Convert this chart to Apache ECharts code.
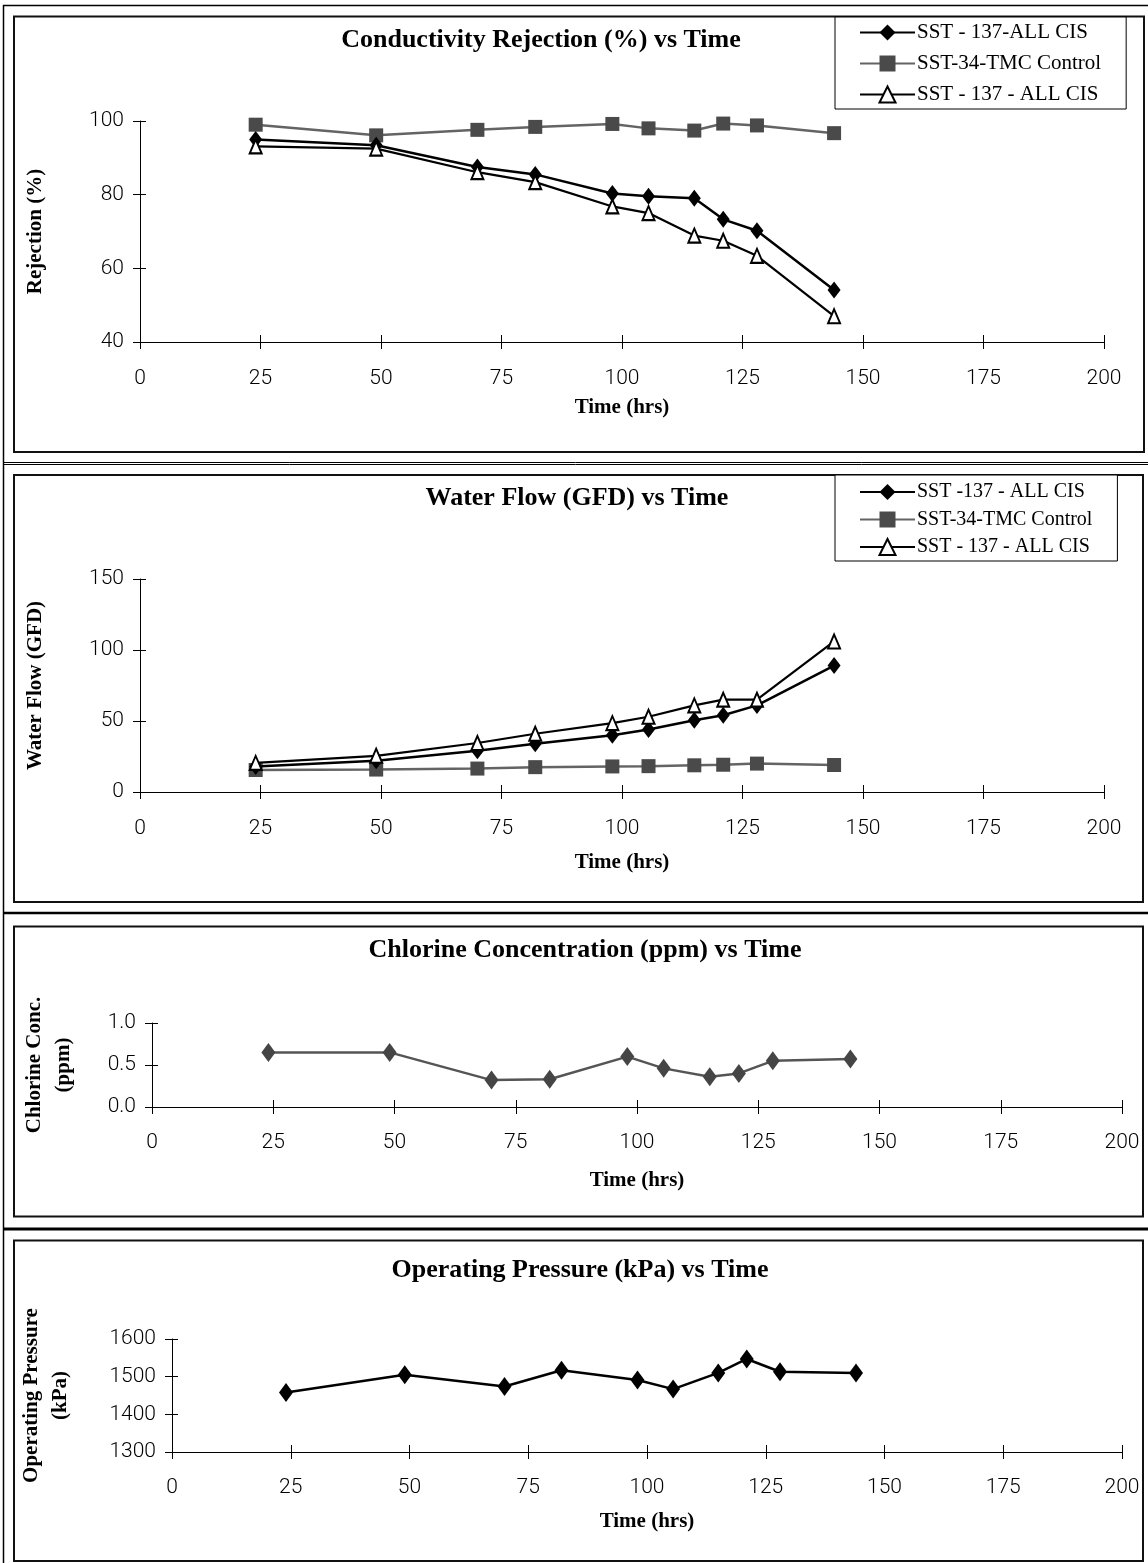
<!DOCTYPE html>
<html>
<head>
<meta charset="utf-8">
<script src="https://cdn.jsdelivr.net/npm/echarts@6/dist/echarts.min.js"></script>
<style>
html,body{margin:0;padding:0;background:#fff;}
#c{width:1148px;height:1563px;}
</style>
</head>
<body>
<div id="c"></div>
<script>
// ---- data ----
const hours = [24, 49, 70, 82, 98, 105.5, 115, 121, 128, 144];
const xTicks = [0, 25, 50, 75, 100, 125, 150, 175, 200];

const rejCis = [95.0, 93.4, 87.5, 85.5, 80.3, 79.6, 79.0, 73.3, 70.2, 54.1];
const rejControl = [99.0, 96.1, 97.6, 98.4, 99.2, 98.0, 97.4, 99.3, 98.8, 96.7];
const rejCis2 = [93.1, 92.5, 86.1, 83.4, 76.8, 75.0, 68.9, 67.5, 63.4, 47.0];

const flowCis = [18, 22, 29, 34, 40, 44, 50.5, 54, 61, 89];
const flowControl = [15.5, 15.8, 16.5, 17.5, 18, 18.2, 18.8, 19.2, 20, 19];
const flowCis2 = [20.5, 25.5, 34.5, 41, 48.5, 53, 61, 65, 65, 106];

const chlorine = [0.65, 0.65, 0.32, 0.33, 0.60, 0.46, 0.36, 0.40, 0.55, 0.57];
const pressure = [1458, 1505, 1474, 1517, 1491, 1467, 1510, 1547, 1513, 1510];

const legend1 = ['SST - 137-ALL CIS', 'SST-34-TMC Control', 'SST - 137 - ALL CIS'];
const legend2 = ['SST -137 - ALL CIS', 'SST-34-TMC Control', 'SST - 137 - ALL CIS'];

const titles = ['Conductivity Rejection (%) vs Time', 'Water Flow (GFD) vs Time',
  'Chlorine Concentration (ppm) vs Time', 'Operating Pressure (kPa) vs Time'];
const yNames = ['Rejection (%)', 'Water Flow (GFD)', 'Chlorine Conc.\n(ppm)', 'Operating Pressure\n(kPa)'];
const xName = 'Time (hrs)';

// ---- helpers ----
const pair = ys => hours.map((h, i) => [h, ys[i]]);
const SERIF = 'Liberation Serif, Times New Roman, serif';
const SANS = 'Roboto, DejaVu Sans, sans-serif';

const grids = [
  {left: 140, top: 121, width: 964, height: 221},
  {left: 140, top: 579, width: 964, height: 213},
  {left: 152, top: 1023, width: 970, height: 84},
  {left: 172, top: 1339, width: 950, height: 113}
];
const yRanges = [
  {min: 40, max: 100, interval: 20},
  {min: 0, max: 150, interval: 50},
  {min: 0, max: 1, interval: 0.5},
  {min: 1300, max: 1600, interval: 100}
];
const xMargins = [26, 26, 25, 25];
const xNameGaps = [55, 60, 63, 59];
const yNameGaps = [90, 90, 74, 97];

const xAxes = [], yAxes = [];
grids.forEach((g, i) => {
  xAxes.push({
    type: 'value', gridIndex: i, min: 0, max: 200, interval: 25, position: 'bottom',
    name: xName, nameLocation: 'middle', nameGap: xNameGaps[i],
    nameTextStyle: {fontFamily: SERIF, fontWeight: 'bold', fontSize: 21, color: '#000'},
    axisLine: {show: true, onZero: false, lineStyle: {color: '#000', width: 1}},
    axisTick: {show: true, length: 7, lineStyle: {color: '#000'}},
    axisLabel: {show: true, margin: xMargins[i], fontFamily: SANS, fontWeight: 300, fontSize: 21, color: '#000'},
    splitLine: {show: false}
  });
  xAxes.push({
    type: 'value', gridIndex: i, min: 0, max: 200, interval: 25, position: 'bottom',
    axisLine: {show: false, onZero: false},
    axisTick: {show: true, inside: true, length: 7, lineStyle: {color: '#000'}},
    axisLabel: {show: false}, splitLine: {show: false}
  });
  const r = yRanges[i];
  yAxes.push({
    type: 'value', gridIndex: i, min: r.min, max: r.max, interval: r.interval, position: 'left',
    name: yNames[i], nameLocation: 'middle', nameGap: yNameGaps[i], nameRotate: 90,
    nameTextStyle: {fontFamily: SERIF, fontWeight: 'bold', fontSize: 21, color: '#000', lineHeight: 29},
    axisLine: {show: true, onZero: false, lineStyle: {color: '#000', width: 1}},
    axisTick: {show: true, length: 7, lineStyle: {color: '#000'}},
    axisLabel: {show: true, margin: 16, fontFamily: SANS, fontWeight: 300, fontSize: 21, color: '#000',
      formatter: i === 2 ? (v => v.toFixed(1)) : (v => String(v))},
    splitLine: {show: false}
  });
  yAxes.push({
    type: 'value', gridIndex: i, min: r.min, max: r.max, interval: r.interval, position: 'left',
    axisLine: {show: false, onZero: false},
    axisTick: {show: true, inside: true, length: 6, lineStyle: {color: '#000'}},
    axisLabel: {show: false}, splitLine: {show: false}
  });
});

function diamondSeries(name, data, axisIdx, color, lineColor, size) {
  return {
    name, type: 'line', xAxisIndex: axisIdx * 2, yAxisIndex: axisIdx * 2, data,
    symbol: 'diamond', symbolSize: size || [13, 17],
    itemStyle: {color: color, borderWidth: 0},
    lineStyle: {color: lineColor, width: 2.5}, z: 3
  };
}
function squareSeries(name, data, axisIdx) {
  return {
    name, type: 'line', xAxisIndex: axisIdx * 2, yAxisIndex: axisIdx * 2, data,
    symbol: 'rect', symbolSize: 14,
    itemStyle: {color: '#4a4a4a', borderWidth: 0},
    lineStyle: {color: '#646464', width: 2.5}, z: 2
  };
}
function triangleSeries(name, data, axisIdx) {
  return {
    name, type: 'line', xAxisIndex: axisIdx * 2, yAxisIndex: axisIdx * 2, data,
    symbol: 'triangle', symbolSize: [12, 14],
    itemStyle: {color: '#fff', borderColor: '#000', borderWidth: 2},
    lineStyle: {color: '#000', width: 2.2}, z: 4
  };
}

const series = [
  diamondSeries(legend1[0], pair(rejCis), 0, '#000', '#000'),
  squareSeries(legend1[1], pair(rejControl), 0),
  triangleSeries(legend1[2], pair(rejCis2), 0),
  diamondSeries(legend2[0], pair(flowCis), 1, '#000', '#000'),
  squareSeries(legend2[1], pair(flowControl), 1),
  triangleSeries(legend2[2], pair(flowCis2), 1),
  diamondSeries('Chlorine', pair(chlorine), 2, '#454545', '#555', [14, 19]),
  diamondSeries('Pressure', pair(pressure), 3, '#000', '#000', [14, 19])
];

function legendAt(data, left, top, gap, fontSize, padTop) {
  return {
    data, orient: 'vertical', left, top, itemWidth: 55, itemHeight: 20, itemGap: gap,
    padding: [padTop, 25, 4, 24], borderColor: '#000', borderWidth: 1, backgroundColor: '#fff',
    selectedMode: false,
    textStyle: {fontFamily: SERIF, fontSize, color: '#000', padding: [0, 0, 0, -3]}
  };
}

// ---- decorations (frames and titles) ----
const frame = (x, y, w, h, lw) => ({type: 'rect', shape: {x, y, width: w, height: h},
  style: {fill: 'none', stroke: '#111', lineWidth: lw}, silent: true, z: 0});
const hline = (y, lw) => ({type: 'line', shape: {x1: 3, y1: y, x2: 1148, y2: y},
  style: {stroke: '#000', lineWidth: lw}, silent: true});
const titleText = (t, x, y) => ({type: 'text', x, y, style: {text: t, fontFamily: SERIF,
  fontWeight: 'bold', fontSize: 26, fill: '#000', align: 'center', verticalAlign: 'middle'}, z: 10});

const graphic = [
  hline(5.5, 1.5),
  {type: 'line', shape: {x1: 3.5, y1: 5, x2: 3.5, y2: 1563}, style: {stroke: '#000', lineWidth: 1.5}, silent: true},
  frame(14, 16.5, 1130, 435.5, 2),
  hline(462.5, 1), hline(464.5, 1),
  frame(14, 475, 1129, 427, 2),
  hline(913, 2.5),
  frame(14, 926.5, 1129, 290, 2),
  hline(1229, 3),
  frame(14, 1240.5, 1129, 320.5, 2),
  titleText(titles[0], 541, 40),
  titleText(titles[1], 577, 498),
  titleText(titles[2], 585, 950),
  titleText(titles[3], 580, 1270)
];

const chart = echarts.init(document.getElementById('c'), null, {renderer: 'canvas'});
chart.setOption({
  animation: false,
  backgroundColor: '#fff',
  grid: grids.map(g => Object.assign({containLabel: false}, g)),
  xAxis: xAxes,
  yAxis: yAxes,
  legend: [legendAt(legend1, 835, 17, 10, 21, 5), legendAt(legend2, 835, 475, 7.5, 20, 7)],
  graphic,
  series
});
</script>
</body>
</html>
